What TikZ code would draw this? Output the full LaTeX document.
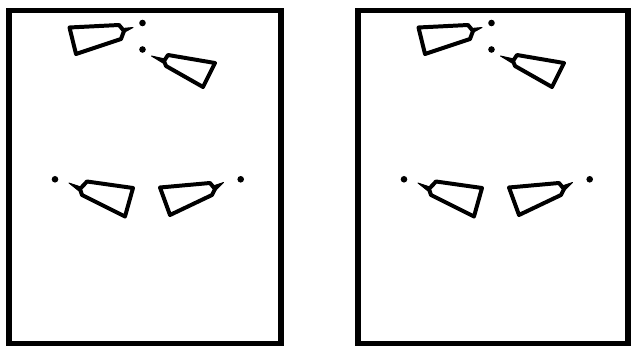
\documentclass[tikz,border=0pt]{standalone}
\usepackage{tikz}
\tikzset{
  frame/.style={line width=5pt},
  nozzle/.style={line width=3.4pt,line join=round,line cap=round},
  jet/.style={fill=black,draw=black,line width=0.8pt,line join=round},
  spot/.style={fill=black}
}

\begin{document}
\begin{tikzpicture}[x=0.03cm,y=-0.03cm]
    \useasboundingbox (0,0) rectangle (631,346);

    \foreach \px/\pw in {0/272,349/270} {
      \draw[frame] ({9+\px},10.5) rectangle ({9+\px+\pw},344);
      \begin{scope}[shift={(\px,0)}]
        % upper pair
        \draw[nozzle] (69.5,27.5) -- (119,25) -- (124,31) -- (121,39)
          -- (76,54) -- cycle;
        \draw[jet] (122,28.5) -- (133,27.5) -- (123,33) -- cycle;
        \draw[nozzle] (215,63) -- (168,55) -- (164,61) -- (166,66)
          -- (203,87) -- cycle;
        \draw[jet] (165,59) -- (151.5,56) -- (163,63) -- cycle;
        \fill[spot] (142.5,23) circle (3.3);
        \fill[spot] (142.5,49.5) circle (3.3);
        % lower pair
        \draw[nozzle] (133,188) -- (87,181.5) -- (80,189) -- (82,195)
          -- (125,216.5) -- cycle;
        \draw[jet] (81,187) -- (69,183) -- (79,191) -- cycle;
        \draw[nozzle] (160,187.5) -- (210,183) -- (215,189) -- (212,195)
          -- (170,215) -- cycle;
        \draw[jet] (213,186) -- (223.5,182.5) -- (215,191) -- cycle;
        \fill[spot] (55,179.3) circle (3.3);
        \fill[spot] (240.7,179.3) circle (3.3);
      \end{scope}
    }
\end{tikzpicture}
\end{document}
